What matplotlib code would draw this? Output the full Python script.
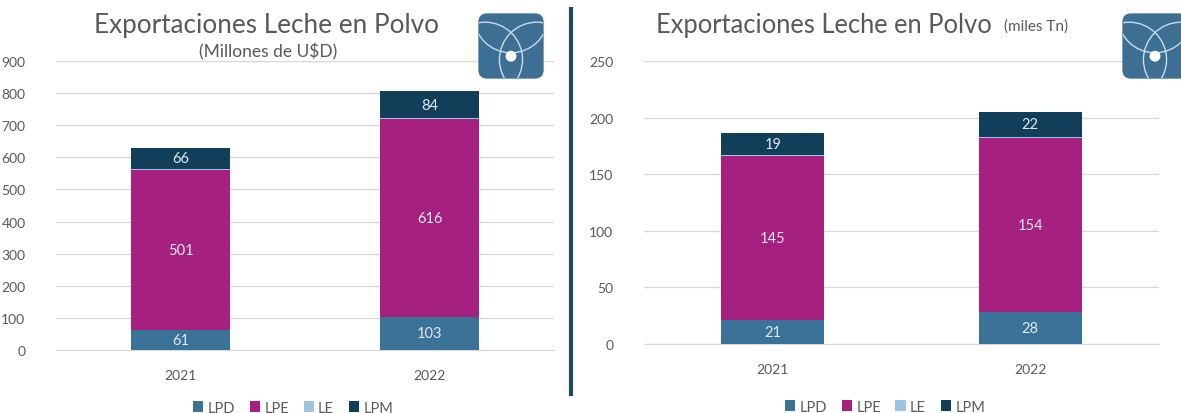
import matplotlib.pyplot as plt
from matplotlib.patches import FancyBboxPatch, Circle
import numpy as np

years = ["2021", "2022"]
series = ["LPD", "LPE", "LE", "LPM"]
colors = ["#3b7398", "#a62080", "#9fc3e3", "#113e58"]

# Millones de U$D
usd_lpd = [61, 103]
usd_lpe = [501, 616]
usd_le = [2, 3]
usd_lpm = [66, 84]

# miles Tn
tn_lpd = [21, 28]
tn_lpe = [145, 154]
tn_le = [1, 1]
tn_lpm = [19, 22]

plt.rcParams['font.family'] = ['Lato', 'DejaVu Sans']
TXT = "#595959"

fig = plt.figure(figsize=(11.81, 4.14), dpi=100)
W, H = 1181, 414


def px_axes(x0, x1, y_top, y_bot):
    return fig.add_axes([x0 / W, 1 - y_bot / H, (x1 - x0) / W, (y_bot - y_top) / H])


def draw_chart(ax, values, ymax, step):
    x = np.arange(len(years))
    bottom = np.zeros(len(years))
    for name, vals, c in zip(series, values, colors):
        ax.bar(x, vals, 0.4, bottom=bottom, color=c, label=name, zorder=3)
        if name != "LE":
            for xi, b, v in zip(x, bottom, vals):
                ax.text(xi, b + v / 2, f"{v}", ha="center", va="center",
                        color="#dfe9f2", fontsize=10.5, zorder=4)
        bottom = bottom + np.array(vals)
    ax.set_xlim(-0.5, 1.5)
    ax.set_ylim(0, ymax)
    ax.set_yticks(np.arange(0, ymax + 1, step))
    ax.set_xticks(x)
    ax.set_xticklabels(years)
    ax.grid(axis="y", color="#d9d9d9", linewidth=1, zorder=0)
    for s in ax.spines.values():
        s.set_visible(False)
    ax.spines["bottom"].set_visible(True)
    ax.spines["bottom"].set_color("#d9d9d9")
    ax.tick_params(length=0, colors=TXT, labelsize=10)
    ax.tick_params(axis="x", pad=14)
    ax.tick_params(axis="y", pad=22)


def draw_logo(x0, y0, size):
    lax = fig.add_axes([x0 / W, 1 - (y0 + size) / H, size / W, size / H])
    lax.set_xlim(0, 1)
    lax.set_ylim(0, 1)
    lax.axis("off")
    box = FancyBboxPatch((0.03, 0.03), 0.94, 0.94, boxstyle="round,pad=0,rounding_size=0.12",
                         color="#3d6f95")
    lax.add_patch(box)
    for cx, cy, r in [(0.5, 0.95, 0.55), (0.12, 0.3, 0.55), (0.88, 0.3, 0.55)]:
        c = Circle((cx, cy), r, fill=False, ec="#c9dcea", lw=1.0)
        lax.add_patch(c)
        c.set_clip_path(box)
    lax.add_patch(Circle((0.5, 0.35), 0.07, color="white"))


# left chart
axl = px_axes(56, 554, 62, 351)
draw_chart(axl, [usd_lpd, usd_lpe, usd_le, usd_lpm], 900, 100)
fig.text(267 / W, 1 - 25 / H, "Exportaciones Leche en Polvo", ha="center", va="center",
         fontsize=18.8, color=TXT)
fig.text(268 / W, 1 - 52 / H, "(Millones de U$D)", ha="center", va="center",
         fontsize=12.5, color=TXT)
axl.legend(loc="upper center", bbox_to_anchor=(0.476, -0.13), ncol=4, frameon=False,
           handlelength=0.7, handleheight=0.7, handletextpad=0.3, columnspacing=1.0,
           labelcolor=TXT, fontsize=10.5)

# right chart
axr = px_axes(644, 1159, 62, 345)
draw_chart(axr, [tn_lpd, tn_lpe, tn_le, tn_lpm], 250, 50)
fig.text(824 / W, 1 - 25 / H, "Exportaciones Leche en Polvo", ha="center", va="center",
         fontsize=18.4, color=TXT)
fig.text(1004 / W, 1 - 27 / H, "(miles Tn)", ha="left", va="center",
         fontsize=11, color=TXT)
axr.legend(loc="upper center", bbox_to_anchor=(0.468, -0.15), ncol=4, frameon=False,
           handlelength=0.7, handleheight=0.7, handletextpad=0.3, columnspacing=1.0,
           labelcolor=TXT, fontsize=10.5)

# divider line
fig.add_artist(plt.Line2D([571 / W, 571 / W], [1 - 10 / H, 1 - 395 / H], color="#1d4a5c", lw=3))

draw_logo(477, 13, 68)
draw_logo(1121, 13, 68)

fig.savefig("out.png", dpi=100)
